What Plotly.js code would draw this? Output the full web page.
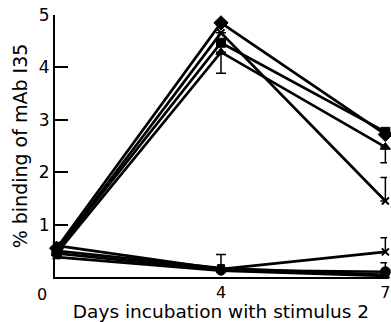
<!DOCTYPE html>
<html>
<head>
<meta charset="utf-8">
<script src="https://cdn.plot.ly/plotly-3.0.1.min.js"></script>
<style>html,body{margin:0;padding:0;background:#fff;}#chart{width:391px;height:322px;}</style>
</head>
<body>
<div id="chart"></div>
<script>
// Days of incubation (plotted as equally spaced categories)
const days = ["0", "4", "7"];
const xTickLabels = ["4", "7"];
const originLabel = "0";

// Upper group (% binding of mAb 135)
const diamondVals = [0.55, 4.85, 2.72];
const crossVals = [0.50, 4.66, 1.45];
const crossErrUp = [0, 0, 0.45];
const squareVals = [0.50, 4.47, 2.77];
const triangleVals = [0.45, 4.29, 2.48];
const triangleErrDown = [0, 0.40, 0.30];

// Lower group
const circleVals = [0.45, 0.13, 0.10];
const circleErrUp = [0, 0.30, 0.17];
const lowCrossVals = [0.60, 0.15, 0.48];
const lowCrossErrUp = [0, 0, 0.27];
const lowSquareVals = [0.50, 0.17, 0.04];
const lowTriangleVals = [0.38, 0.12, 0.02];

const black = "#000";
function series(y, symbol, size, err) {
  const t = {
    x: days, y: y, type: "scatter", mode: "lines+markers",
    line: {color: black, width: 2.7},
    marker: {symbol: symbol, size: size, color: black, line: {color: black, width: 1}},
    cliponaxis: false, showlegend: false, hoverinfo: "skip"
  };
  if (err) t.error_y = Object.assign({type: "data", symmetric: false, color: black, thickness: 1.5, width: 5}, err);
  return t;
}
const zeros = [0, 0, 0];
const data = [
  series(lowTriangleVals, "triangle-up", 7),
  series(lowSquareVals, "square", 7),
  series(circleVals, "circle", 10, {array: circleErrUp, arrayminus: zeros}),
  series(lowCrossVals, "x-thin", 7, {array: lowCrossErrUp, arrayminus: zeros}),
  series(triangleVals, "triangle-up", 9, {array: zeros, arrayminus: triangleErrDown}),
  series(squareVals, "square", 9),
  series(crossVals, "x-thin", 7, {array: crossErrUp, arrayminus: zeros}),
  series(diamondVals, "diamond", 11)
];
data.forEach(t => { if (t.marker.symbol === "x-thin") t.marker.line.width = 2; });

const font = {family: "DejaVu Sans, Liberation Sans, sans-serif", color: black};
const layout = {
  width: 391, height: 322,
  margin: {l: 55, r: 4, t: 15, b: 45},
  paper_bgcolor: "#fff", plot_bgcolor: "#fff",
  font: Object.assign({size: 16}, font),
  xaxis: {
    type: "category", range: [-0.01, 2.01],
    tickmode: "array", tickvals: xTickLabels, ticktext: xTickLabels,
    showgrid: false, zeroline: false,
    showline: true, linecolor: black, linewidth: 2,
    ticks: "", tickfont: Object.assign({size: 16}, font),
    title: {text: "Days incubation with stimulus 2", font: Object.assign({size: 18.5}, font), standoff: 7}
  },
  yaxis: {
    range: [0, 5], tickvals: [1, 2, 3, 4, 5], ticktext: ["1", "2", "3", "4", "5"],
    showgrid: false, zeroline: false,
    showline: true, linecolor: black, linewidth: 2,
    ticks: "inside", ticklen: 13, tickwidth: 2, tickcolor: black,
    tickfont: Object.assign({size: 17}, font),
    title: {text: "% binding of mAb I35", font: Object.assign({size: 19}, font), standoff: 6}
  },
  annotations: [{
    text: originLabel, xref: "paper", yref: "paper", x: -0.04, y: 0,
    xanchor: "center", yanchor: "top", yshift: -6, showarrow: false,
    font: Object.assign({size: 16}, font)
  }]
};
Plotly.newPlot("chart", data, layout, {staticPlot: true, displayModeBar: false});
</script>
</body>
</html>
